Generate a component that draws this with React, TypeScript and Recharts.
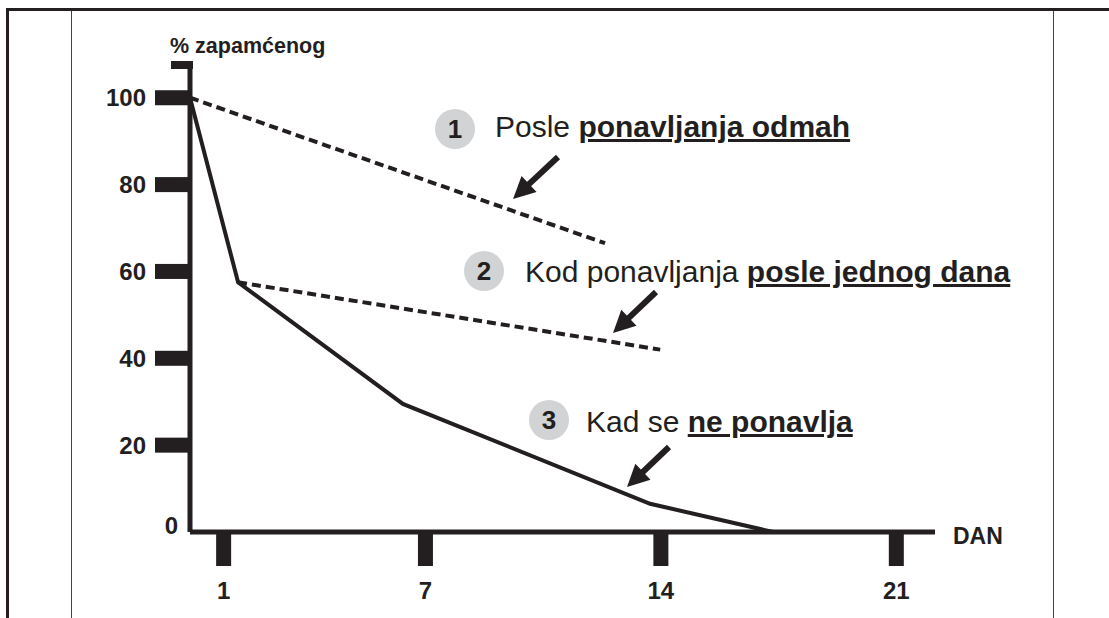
import { LineChart, Line, XAxis, YAxis } from "recharts";

const FONT = "'Liberation Sans', Arial, Helvetica, sans-serif";
const INK = "#231f20";

// day on the x axis, % remembered on the y axis
const noReviewDays = [0, 1.43, 6.33, 13.68, 17.34];
const noReviewPct = [100, 57.5, 29.5, 6.5, 0];

const reviewNowDays = [0, 12.34];
const reviewNowPct = [100, 66.5];

const reviewNextDayDays = [1.43, 13.98];
const reviewNextDayPct = [57.5, 42];

const xTicks = [1, 7, 14, 21];
const yTicks = [0, 20, 40, 60, 80, 100, 108];

const toPoints = (days: number[], pct: number[]) =>
  days.map((d, i) => ({ day: d, pct: pct[i] }));

const noReview = toPoints(noReviewDays, noReviewPct);
const reviewNow = toPoints(reviewNowDays, reviewNowPct);
const reviewNextDay = toPoints(reviewNextDayDays, reviewNextDayPct);

function YTick(props: any) {
  const { x, y, payload } = props;
  const v = payload.value;
  if (v === 108) {
    return <rect x={x - 19} y={y - 2} width={22} height={8} fill={INK} />;
  }
  if (v === 0) {
    return (
      <text x={x - 12} y={y + 2} textAnchor="end" fontFamily={FONT} fontWeight="bold" fontSize={24} fill={INK}>
        0
      </text>
    );
  }
  return (
    <g>
      <rect x={x - 35} y={y - 7.5} width={35} height={15} fill={INK} />
      <text x={x - 44} y={y} dy="0.36em" textAnchor="end" fontFamily={FONT} fontWeight="bold" fontSize={24} fill={INK}>
        {v}
      </text>
    </g>
  );
}

function XTick(props: any) {
  const { x, y, payload } = props;
  return (
    <g>
      <rect x={x - 7.5} y={y + 1} width={15} height={33} fill={INK} />
      <text x={x} y={y + 67} textAnchor="middle" fontFamily={FONT} fontWeight="bold" fontSize={24} fill={INK}>
        {payload.value}
      </text>
    </g>
  );
}

function Arrow({ x1, y1, x2, y2 }: { x1: number; y1: number; x2: number; y2: number }) {
  const dx = x2 - x1;
  const dy = y2 - y1;
  const len = Math.sqrt(dx * dx + dy * dy);
  const ux = dx / len;
  const uy = dy / len;
  const head = 22;
  const half = 11;
  const bx = x2 - ux * head;
  const by = y2 - uy * head;
  return (
    <g>
      <line x1={x1} y1={y1} x2={bx + ux * 2} y2={by + uy * 2} stroke={INK} strokeWidth={6} />
      <polygon
        points={`${x2},${y2} ${bx - uy * half},${by + ux * half} ${bx + uy * half},${by - ux * half}`}
        fill={INK}
      />
    </g>
  );
}

function Note({ cx, cy, n, x, y, plain, bold }: { cx: number; cy: number; n: string; x: number; y: number; plain: string; bold: string }) {
  return (
    <g fontFamily={FONT} fill={INK}>
      <circle cx={cx} cy={cy} r={20} fill="#d1d3d4" />
      <text x={cx} y={cy} dy="0.36em" textAnchor="middle" fontWeight="bold" fontSize={26}>
        {n}
      </text>
      <text x={x} y={y} fontSize={30}>
        <tspan>{plain}</tspan>
        <tspan fontWeight="bold" style={{ textDecoration: "underline" }}>
          {bold}
        </tspan>
      </text>
    </g>
  );
}

export default function App() {
  return (
    <div style={{ position: "absolute", left: 0, top: 0, width: 1109, height: 618, background: "#fff" }}>
      <LineChart
        width={1109}
        height={618}
        margin={{ top: 63, right: 174, bottom: 16, left: 40 }}
      >
        <XAxis
          type="number"
          dataKey="day"
          domain={[0, 22.15]}
          ticks={xTicks}
          allowDataOverflow
          height={70}
          tickSize={0}
          tickMargin={0}
          tickLine={false}
          axisLine={{ stroke: INK, strokeWidth: 5 }}
          tick={<XTick />}
          interval={0}
        />
        <YAxis
          type="number"
          dataKey="pct"
          domain={[0, 108]}
          ticks={yTicks}
          allowDataOverflow
          width={150}
          tickSize={0}
          tickMargin={0}
          tickLine={false}
          axisLine={{ stroke: INK, strokeWidth: 5 }}
          tick={<YTick />}
          interval={0}
        />
        <Line
          data={noReview}
          dataKey="pct"
          stroke={INK}
          strokeWidth={4}
          dot={false}
          isAnimationActive={false}
          type="linear"
        />
        <Line
          data={reviewNow}
          dataKey="pct"
          stroke={INK}
          strokeWidth={4}
          strokeDasharray="9 5"
          dot={false}
          isAnimationActive={false}
          type="linear"
        />
        <Line
          data={reviewNextDay}
          dataKey="pct"
          stroke={INK}
          strokeWidth={4}
          strokeDasharray="9 5"
          dot={false}
          isAnimationActive={false}
          type="linear"
        />
      </LineChart>
      <svg
        width={1109}
        height={618}
        style={{ position: "absolute", left: 0, top: 0, pointerEvents: "none" }}
      >
        {/* frame */}
        <line x1={6} y1={9.5} x2={1109} y2={9.5} stroke={INK} strokeWidth={3} />
        <line x1={7.5} y1={8} x2={7.5} y2={618} stroke={INK} strokeWidth={3} />
        <line x1={71.5} y1={11} x2={71.5} y2={618} stroke="#444" strokeWidth={1} />
        <line x1={1053.5} y1={11} x2={1053.5} y2={618} stroke="#444" strokeWidth={1} />

        <text x={170} y={53} fontFamily={FONT} fontWeight="bold" fontSize={21.5} fill={INK}>
          % zapamćenog
        </text>
        <text x={953} y={544} fontFamily={FONT} fontWeight="bold" fontSize={23} fill={INK}>
          DAN
        </text>

        <Note cx={455} cy={129} n="1" x={495} y={137} plain="Posle " bold="ponavljanja odmah" />
        <Note cx={484} cy={271} n="2" x={525} y={282} plain="Kod ponavljanja " bold="posle jednog dana" />
        <Note cx={549} cy={420} n="3" x={586} y={432} plain="Kad se " bold="ne ponavlja" />

        <Arrow x1={558} y1={157} x2={513} y2={199} />
        <Arrow x1={656} y1={292} x2={613} y2={333} />
        <Arrow x1={669} y1={447} x2={627} y2={487} />
      </svg>
    </div>
  );
}
